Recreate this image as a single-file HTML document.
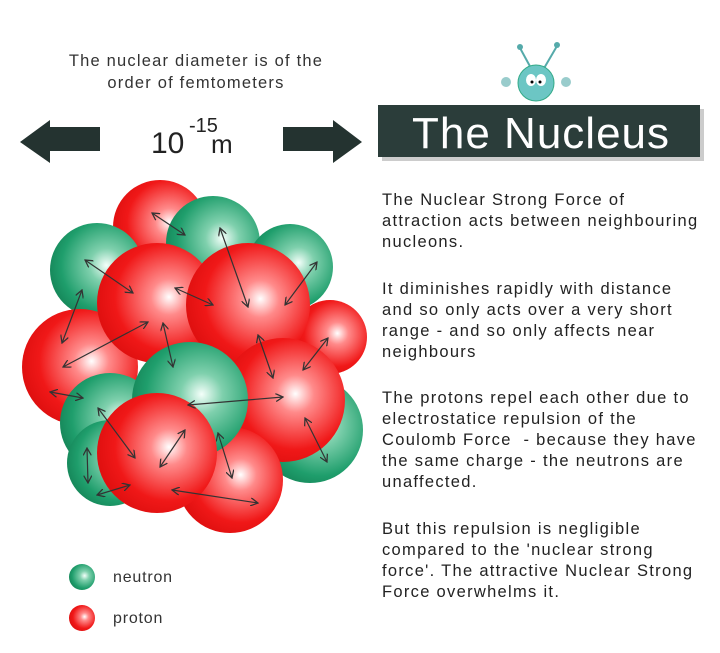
<!DOCTYPE html>
<html><head><style>
body{margin:0;background:#fff;width:720px;height:653px;overflow:hidden;font-family:"Liberation Sans",sans-serif;color:#222}
.t{position:absolute;font-size:16.5px;line-height:21px;left:382px;color:#222;letter-spacing:1.3px;white-space:nowrap}
</style></head><body>
<svg width="720" height="653" style="position:absolute;left:0;top:0">
<defs>
<radialGradient id="r" cx="0.6" cy="0.45" r="0.6"><stop offset="0" stop-color="#fff"/><stop offset="0.25" stop-color="#ff8a8a"/><stop offset="0.75" stop-color="#f01818"/><stop offset="1" stop-color="#e01010"/></radialGradient>
<radialGradient id="g" cx="0.6" cy="0.45" r="0.6"><stop offset="0" stop-color="#f4fffa"/><stop offset="0.3" stop-color="#7fd0ad"/><stop offset="0.8" stop-color="#1f9e6c"/><stop offset="1" stop-color="#178a5c"/></radialGradient>
<marker id="a" viewBox="0 0 10 10" refX="9" refY="5" markerWidth="7" markerHeight="7" orient="auto-start-reverse"><path d="M0,0 L9,5 L0,10" fill="none" stroke="#333" stroke-width="1.5"/></marker>
</defs>
<text x="196" y="66" font-size="16.5" letter-spacing="1.2" text-anchor="middle" fill="#333">The nuclear diameter is of the</text>
<text x="196" y="88" font-size="16.5" letter-spacing="1.2" text-anchor="middle" fill="#333">order of femtometers</text>
<polygon points="20,142 50,120 50,127 100,127 100,151 50,151 50,163" fill="#243330"/>
<polygon points="362,142 333,120 333,127 283,127 283,151 333,151 333,163" fill="#243330"/>
<text x="151" y="153" font-size="30" fill="#222">10</text>
<text x="189" y="132" font-size="20" fill="#222">-15</text>
<text x="211" y="153" font-size="26" fill="#222">m</text>
<rect x="382" y="109" width="322" height="52" fill="#999" opacity="0.5"/>
<rect x="378" y="105" width="322" height="52" fill="#2b3d3a"/>
<text x="412" y="148" font-size="44" letter-spacing="1" fill="#fff">The Nucleus</text>
<g>
<line x1="532" y1="70" x2="520" y2="48" stroke="#5aa" stroke-width="2"/><circle cx="520" cy="47" r="3" fill="#5aa"/>
<line x1="543" y1="70" x2="557" y2="46" stroke="#5aa" stroke-width="2"/><circle cx="557" cy="45" r="3" fill="#5aa"/>
<circle cx="536" cy="83" r="18" fill="#6cc6c4" stroke="#3a8" stroke-width="1"/>
<ellipse cx="531" cy="80" rx="5" ry="6" fill="#fff"/><ellipse cx="541" cy="80" rx="5" ry="6" fill="#fff"/>
<circle cx="532" cy="82" r="1.5" fill="#000"/><circle cx="540" cy="82" r="1.5" fill="#000"/>
<circle cx="506" cy="82" r="5" fill="#9cc"/><circle cx="566" cy="82" r="5" fill="#9cc"/>
</g>
<circle cx="160" cy="227" r="47" fill="url(#r)"/>
<circle cx="213" cy="243" r="47" fill="url(#g)"/>
<circle cx="290" cy="267" r="43" fill="url(#g)"/>
<circle cx="97" cy="270" r="47" fill="url(#g)"/>
<circle cx="330" cy="337" r="37" fill="url(#r)"/>
<circle cx="80" cy="367" r="58" fill="url(#r)"/>
<circle cx="157" cy="303" r="60" fill="url(#r)"/>
<circle cx="248" cy="305" r="62" fill="url(#r)"/>
<circle cx="310" cy="430" r="53" fill="url(#g)"/>
<circle cx="283" cy="400" r="62" fill="url(#r)"/>
<circle cx="110" cy="423" r="50" fill="url(#g)"/>
<circle cx="110" cy="463" r="43" fill="url(#g)"/>
<circle cx="230" cy="480" r="53" fill="url(#r)"/>
<circle cx="190" cy="400" r="58" fill="url(#g)"/>
<circle cx="157" cy="453" r="60" fill="url(#r)"/>
<g stroke="#333" stroke-width="1.2" marker-start="url(#a)" marker-end="url(#a)">
<line x1="152" y1="213" x2="185" y2="235"/>
<line x1="220" y1="228" x2="248" y2="307"/>
<line x1="317" y1="262" x2="285" y2="305"/>
<line x1="85" y1="260" x2="133" y2="293"/>
<line x1="175" y1="288" x2="213" y2="305"/>
<line x1="82" y1="290" x2="62" y2="343"/>
<line x1="148" y1="322" x2="63" y2="367"/>
<line x1="163" y1="323" x2="173" y2="367"/>
<line x1="258" y1="335" x2="273" y2="378"/>
<line x1="328" y1="338" x2="303" y2="370"/>
<line x1="50" y1="392" x2="83" y2="398"/>
<line x1="188" y1="405" x2="283" y2="397"/>
<line x1="98" y1="408" x2="135" y2="458"/>
<line x1="185" y1="430" x2="160" y2="467"/>
<line x1="218" y1="433" x2="232" y2="478"/>
<line x1="305" y1="418" x2="327" y2="462"/>
<line x1="87" y1="448" x2="88" y2="483"/>
<line x1="97" y1="495" x2="130" y2="485"/>
<line x1="172" y1="490" x2="258" y2="503"/>
</g>
<circle cx="82" cy="577" r="13" fill="url(#g)"/>
<circle cx="82" cy="618" r="13" fill="url(#r)"/>
<text x="113" y="582" font-size="16" letter-spacing="0.8" fill="#333">neutron</text>
<text x="113" y="623" font-size="16" letter-spacing="0.8" fill="#333">proton</text>
</svg>
<div class="t" style="top:190px">The Nuclear Strong Force of<br>attraction acts between neighbouring<br>nucleons.</div>
<div class="t" style="top:279px">It diminishes rapidly with distance<br>and so only acts over a very short<br>range - and so only affects near<br>neighbours</div>
<div class="t" style="top:388px">The protons repel each other due to<br>electrostatice repulsion of the<br>Coulomb Force&nbsp; - because they have<br>the same charge - the neutrons are<br>unaffected.</div>
<div class="t" style="top:519px">But this repulsion is negligible<br>compared to the 'nuclear strong<br>force'. The attractive Nuclear Strong<br>Force overwhelms it.</div>
</body></html>
